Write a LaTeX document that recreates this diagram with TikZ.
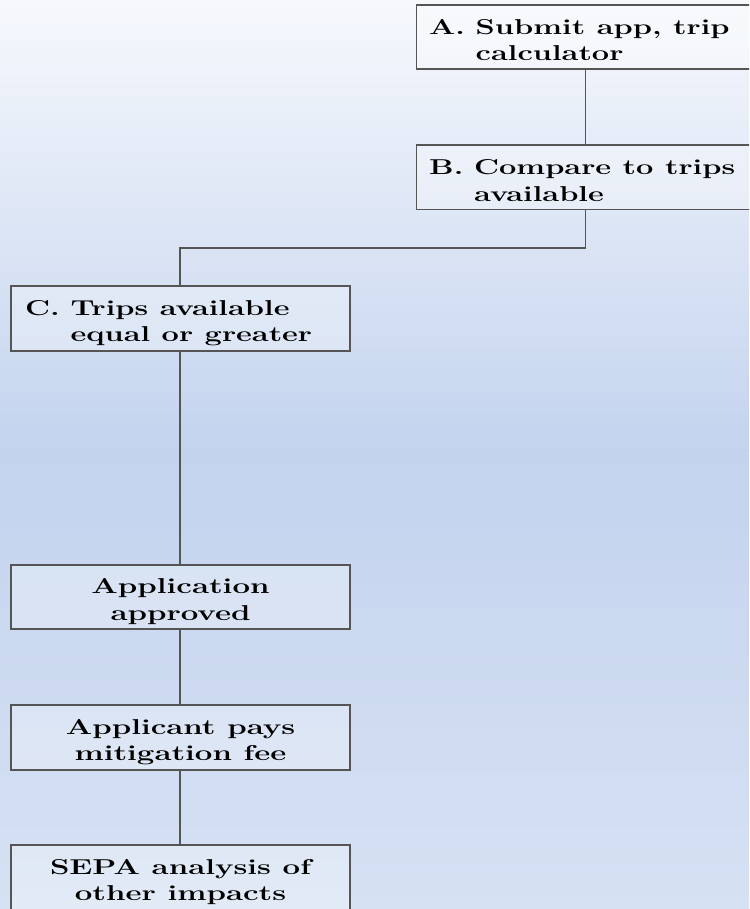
\documentclass[tikz,border=0pt]{standalone}
\usepackage{fontspec}
\setmainfont{Latin Modern Roman}
\usepackage{array}
\definecolor{bgtop}{HTML}{F6F8FC}
\definecolor{bgmid}{HTML}{C3D3EE}
\definecolor{bgbot}{HTML}{D6E1F3}
\definecolor{edge}{HTML}{555555}
\tikzset{
  box/.style={draw=edge, line width=1.2pt, fill=white, fill opacity=0.3, text opacity=1, inner sep=0pt},
  link/.style={draw=edge, line width=1.2pt},
  lbl/.style={text=black, align=left, anchor=west, inner sep=0pt},
  clbl/.style={text=black, align=center, inner sep=0pt}
}
\newcommand{\txt}{\fontsize{21.5}{26.5}\selectfont\bfseries}
\newcommand{\hang}[2]{\txt\scalebox{1.43}[1]{\begin{tabular}{@{}l@{\hspace{7.5pt}}l@{}}#1 & \begin{tabular}[t]{@{}l@{}}#2\end{tabular}\end{tabular}}}
\newcommand{\ctr}[1]{\txt\scalebox{1.45}[1]{\begin{tabular}{@{}c@{}}#1\end{tabular}}}
\begin{document}
\begin{tikzpicture}[x=1pt,y=-1pt]
\useasboundingbox (0,0) rectangle (749,909);
\shade[top color=bgtop, bottom color=bgmid] (0,0) rectangle (749,451);
\shade[top color=bgmid, bottom color=bgbot] (0,450) rectangle (749,909);
\begin{scope}
\clip (0,0) rectangle (749,909);
\path[box] (416.5,5) rectangle (760,69);
\path[box] (416.5,145) rectangle (760,209.5);
\path[box] (11,286) rectangle (350,351);
\path[box] (11,565) rectangle (350,629);
\path[box] (11,705) rectangle (350,770);
\path[box] (11,845) rectangle (350,920);
\end{scope}
\coordinate (Ab) at (585.7,69);
\coordinate (Bt) at (585.7,145);
\coordinate (Bb) at (585.7,209.5);
\coordinate (Ct) at (180,286);
\coordinate (Cb) at (180,351);
\coordinate (Dt) at (180,565);
\coordinate (Db) at (180,629);
\coordinate (Et) at (180,705);
\coordinate (Eb) at (180,770);
\coordinate (Ft) at (180,845);
\node[lbl] (A) at (429,42) {\hang{A.}{Submit app, trip\\calculator}};
\node[lbl] (B) at (429,182.5) {\hang{B.}{Compare to trips\\available}};
\node[lbl] (C) at (25,323) {\hang{C.}{Trips available\\equal or greater}};
\node[clbl] (D) at (180.5,601.5) {\ctr{Application\\approved}};
\node[clbl] (E) at (180.5,742) {\ctr{Applicant pays\\mitigation fee}};
\node[clbl] (F) at (180.5,882) {\ctr{SEPA analysis of\\other impacts}};
\draw[link] (Ab) -- (Bt);
\draw[link] (Bb) |- (180,248) -- (Ct);
\draw[link] (Cb) -- (Dt);
\draw[link] (Db) -- (Et);
\draw[link] (Eb) -- (Ft);
\end{tikzpicture}
\end{document}
